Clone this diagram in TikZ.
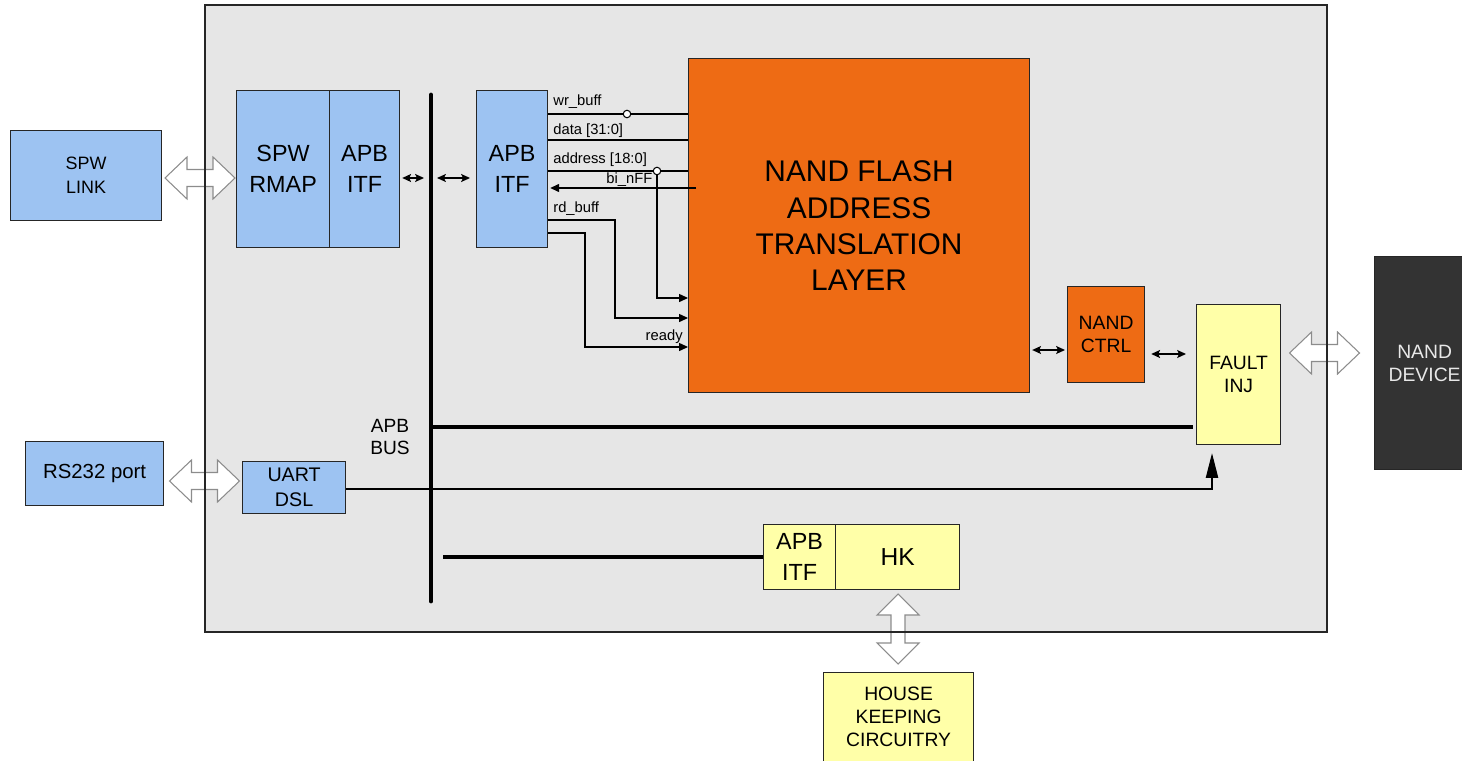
\documentclass[tikz,border=0pt]{standalone}
\usepackage{fontspec}
\setmainfont{Liberation Sans}
\usetikzlibrary{arrows.meta,calc}
\definecolor{chipgray}{HTML}{E6E6E6}
\definecolor{lblue}{HTML}{9DC3F2}
\definecolor{lyellow}{HTML}{FFFFA8}
\definecolor{orng}{HTML}{EE6B14}
\definecolor{darkbox}{HTML}{333333}
\definecolor{devtext}{HTML}{E8E8E8}
\tikzset{
  box/.style={draw=black!85, line width=0.7pt, anchor=north west, inner sep=0pt, align=center, text=black},
  f13/.style={font=\fontsize{13.3}{17.6}\selectfont},
  f17/.style={font=\fontsize{17}{20.5}\selectfont},
  f11/.style={font=\fontsize{11}{13.2}\selectfont},
  f10/.style={font=\fontsize{10.2}{13.7}\selectfont},
  fsig/.style={font=\fontsize{8.4}{10}\selectfont},
  hollow/.style={draw=black!45, fill=white, line width=0.6pt, line join=miter},
  sig/.style={draw=black, line width=0.6pt},
  sigarr/.style={sig, -{Triangle[length=5pt,width=4.5pt]}},
  biarrow/.style={draw=black, line width=0.8pt, {Stealth[length=5pt,width=4.5pt,inset=1pt]}-{Stealth[length=5pt,width=4.5pt,inset=1pt]}},
  busline/.style={draw=black, line width=2.8pt, line cap=round},
  hollowh/.pic={\draw[hollow] (-35,0) -- (-13,-21) -- (-13,-8.5) -- (13,-8.5) -- (13,-21) -- (35,0) -- (13,21) -- (13,8.5) -- (-13,8.5) -- (-13,21) -- cycle;},
  hollowv/.pic={\draw[hollow] (0,-35) -- (-21,-14) -- (-7,-14) -- (-7,14) -- (-21,14) -- (0,35) -- (21,14) -- (7,14) -- (7,-14) -- (21,-14) -- cycle;}
}
\begin{document}
\begin{tikzpicture}[x=0.02cm,y=-0.02cm]
\useasboundingbox (0,0) rectangle (1462,760);
% chip background
\node[box, draw=none, fill=chipgray, minimum width=22.42cm, minimum height=12.52cm] (chip) at (205,5) {};
% hollow arrows
\pic at (200,178) {hollowh};
\pic at (204.5,481) {hollowh};
\pic at (1324.5,353) {hollowh};
\pic at (898,629) {hollowv};
% chip border on top
\draw[black!85, line width=0.8pt] (chip.north west) rectangle (chip.south east);

% outside blocks
\node[box, fill=lblue, f10, minimum width=3.02cm, minimum height=1.8cm] (spwlink) at (10,130) {SPW\\LINK};
\node[box, fill=lblue, f11, minimum width=2.76cm, minimum height=1.28cm, font=\fontsize{11.6}{14}\selectfont] (rs232) at (25,441) {RS232 port};
\node[box, fill=darkbox, text=devtext, f11, minimum width=2.0cm, minimum height=4.26cm] (device) at (1374,256) {NAND\\DEVICE};
\node[box, fill=lyellow, f11, minimum width=3.0cm, minimum height=1.78cm] (hkc) at (823,672) {HOUSE\\KEEPING\\CIRCUITRY};

% inner blocks
\node[box, fill=lblue, f13, minimum width=1.86cm, minimum height=3.14cm] (spwrmap) at (236,90) {SPW\\RMAP};
\node[box, fill=lblue, f13, minimum width=1.40cm, minimum height=3.14cm] (apbitf1) at (329,90) {APB\\ITF};
\node[box, fill=lblue, f13, minimum width=1.42cm, minimum height=3.14cm] (apbitf2) at (476,90) {APB\\ITF};
\node[box, fill=orng, f17, minimum width=6.82cm, minimum height=6.68cm] (flash) at (688,58) {NAND FLASH\\ADDRESS\\TRANSLATION\\LAYER};
\node[box, fill=orng, f11, minimum width=1.54cm, minimum height=1.92cm] (ctrl) at (1067,286) {NAND\\CTRL};
\node[box, fill=lyellow, f11, minimum width=1.68cm, minimum height=2.80cm] (fault) at (1196,304) {FAULT\\INJ};
\node[box, fill=lblue, f11, minimum width=2.06cm, minimum height=1.04cm, font=\fontsize{11.2}{14}\selectfont] (uart) at (242,461) {UART\\DSL};
\node[box, fill=lyellow, f13, minimum width=1.44cm, minimum height=1.30cm] (hkitf) at (763,524) {APB\\ITF};
\node[box, fill=lyellow, minimum width=2.48cm, minimum height=1.30cm, font=\fontsize{14}{17}\selectfont] (hk) at (835,524) {HK};

% APB bus
\coordinate (busT) at (431,95);
\coordinate (busB) at (431,601);
\draw[busline] (busT) -- (busB);
\draw[busline, line cap=butt] (busT |- 0,427) -- ([xshift=-0.06cm]fault.west |- 0,427);
\draw[busline, line cap=butt] (443,557) -- (hkitf.west |- 0,557);
\node[align=center, font=\fontsize{10.9}{13}\selectfont] (buslbl) at (390,437) {APB\\BUS};

% small bidirectional arrows
\draw[biarrow] ([xshift=0.04cm]apbitf1.east |- 0,178) -- ([xshift=-0.14cm]busT |- 0,178);
\draw[biarrow] ([xshift=0.12cm]busT |- 0,178) -- ([xshift=-0.12cm]apbitf2.west |- 0,178);
\draw[biarrow] ([xshift=0.04cm]flash.east |- 0,350) -- ([xshift=-0.04cm]ctrl.west |- 0,350);
\draw[biarrow] ([xshift=0.12cm]ctrl.east |- 0,354) -- ([xshift=-0.2cm]fault.west |- 0,354);

% UART to fault injection
\draw[sig, -{Triangle[length=14pt,width=7pt]}] (uart.east |- 0,489) -| ([yshift=-0.16cm]fault.south -| 1212,0);

% signals between APB ITF and NAND FLASH
\draw[sig] (apbitf2.east |- 0,114) -- (flash.west |- 0,114);
\node[circle, draw, fill=white, line width=0.6pt, inner sep=0pt, minimum size=0.15cm] (c1) at (627,114) {};
\draw[sig] (apbitf2.east |- 0,140) -- (flash.west |- 0,140);
\draw[sig] (apbitf2.east |- 0,171) -- (flash.west |- 0,171);
\draw[sigarr] (657,171) |- (flash.west |- 0,298);
\node[circle, draw, fill=white, line width=0.6pt, inner sep=0pt, minimum size=0.15cm] (c2) at (657,171) {};
\draw[sigarr] ([xshift=0.16cm]flash.west |- 0,188) -- ([xshift=0.04cm]apbitf2.east |- 0,188);
\draw[sigarr] (apbitf2.east |- 0,220) -- (615,220) |- (flash.west |- 0,318);
\draw[sigarr] (apbitf2.east |- 0,233) -- (585,233) |- (flash.west |- 0,347);

\node[fsig, anchor=west, inner sep=0pt] (lwr) at (553,102) {wr\_buff};
\node[fsig, anchor=west, inner sep=0pt] (ldata) at (553,131) {data [31:0]};
\node[fsig, anchor=west, inner sep=0pt] (laddr) at (553,160) {address [18:0]};
\node[fsig, anchor=west, inner sep=0pt] (lbi) at (606,180) {bi\_nFF};
\node[fsig, anchor=west, inner sep=0pt] (lrd) at (553,209) {rd\_buff};
\node[fsig, anchor=east, inner sep=0pt] (lready) at (683,337) {ready};
\end{tikzpicture}
\end{document}
